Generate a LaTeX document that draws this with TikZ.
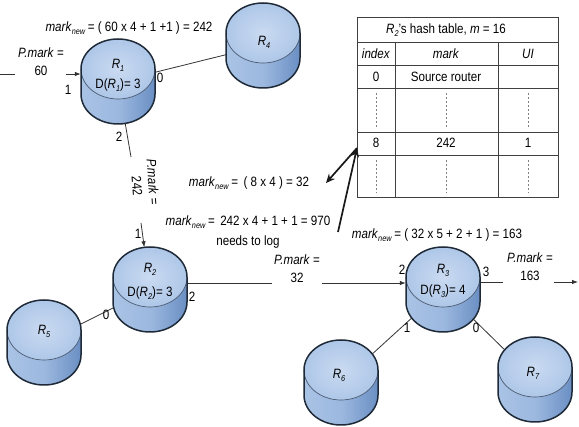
\documentclass[tikz,border=0pt]{standalone}
\usepackage{fontspec}
\setmainfont{Liberation Sans}[FakeStretch=0.86]
\usetikzlibrary{shapes.geometric,arrows.meta}

\definecolor{sideL}{HTML}{A9C3E5}
\definecolor{sideM}{HTML}{9CB8DF}
\definecolor{sideR}{HTML}{6A8FC3}
\definecolor{topIn}{HTML}{CADAF1}
\definecolor{topOut}{HTML}{AEC7E8}
\definecolor{rimC}{HTML}{4A5A70}
\definecolor{edgeC}{HTML}{1F2A38}

\newcommand\sbs[1]{\raisebox{-0.4ex}{\fontsize{8.5}{9}\selectfont #1}}
\newcommand\mnew{\textit{mark}\sbs{\textit{new}}}
\newcommand\Rr[1]{\textit{R}\sbs{\textit{#1}}}

% cylinder drawn around the centre of its top face
\newcommand\routerbody[1]{%
  \begin{scope}[shift={#1}]
    \path[left color=sideL, right color=sideR, middle color=sideM]
      (-37,0) -- (-37,25) arc[start angle=180,end angle=0,x radius=37,y radius=30]
      -- (37,0) arc[start angle=0,end angle=180,x radius=37,y radius=30] -- cycle;
    \path[inner color=topIn, outer color=topOut] (0,0) ellipse[x radius=37,y radius=30];
    \draw[rimC, line width=0.7pt] (37,0) arc[start angle=0,end angle=180,x radius=37,y radius=30];
    \draw[edgeC, line width=1.5pt] (-37,0) arc[start angle=180,end angle=360,x radius=37,y radius=30]
      -- (37,25) arc[start angle=0,end angle=180,x radius=37,y radius=30] -- cycle;
  \end{scope}}

\tikzset{
  txt/.style={font=\fontsize{13.5}{18}\selectfont, inner sep=0pt, align=center},
  spot/.style={ellipse, minimum width=74pt, minimum height=85pt, inner sep=0pt},
  link/.style={line width=0.8pt, draw=black!80},
  tip/.style={-{Latex[length=6pt,width=4.5pt]}},
  heavy/.style={line width=1.7pt, draw=black!90, -{Stealth[length=9pt,width=8pt]}},
  grid/.style={line width=0.7pt, draw=black!75},
  dots/.style={dash pattern=on 2.5pt off 1.5pt, draw=gray, line width=0.6pt}
}

\begin{document}
\begin{tikzpicture}[x=1pt,y=-1pt]
\useasboundingbox (0,0) rectangle (579,427);

% router outlines used as connector ends
\node[spot] (R1) at (118,81.5) {};
\node[spot] (R4) at (263,45.5) {};
\node[spot] (R2) at (150,289.5) {};
\node[spot] (R5) at (44,342.5) {};
\node[spot] (R3) at (443,289.5) {};
\node[spot] (R6) at (341,382.5) {};
\node[spot] (R7) at (535,379.5) {};

% free ends of the packet paths
\coordinate (inL) at (0,74);
\coordinate (inR) at (15,74);
\coordinate (inA) at (66,74);
\coordinate (downA) at (131,157);
\coordinate (downB) at (141,223);
\coordinate (midA) at (272,283);
\coordinate (midB) at (322,283);
\coordinate (outA) at (503,282);
\coordinate (outB) at (554,282);
\coordinate (outC) at (578,282);
\coordinate (row8) at (357,148);
\coordinate (log970) at (338,232);
\coordinate (to32) at (326,183);

% plain links (under the routers)
\draw[link] (R1) -- (R4);
\draw[link] (R1) -- (downA);
\draw[link] (R2) -- (R5);
\draw[link] (R3) -- (R6);
\draw[link] (R3) -- (R7);
\draw[link] (R2.east |- midA) -- (midA);
\draw[link] (R3.east |- outA) -- (outA);
\draw[link] (inL) -- (inR);

% routers
\routerbody{(118,69)}
\routerbody{(263,33)}
\routerbody{(150,277)}
\routerbody{(44,330)}
\routerbody{(443,277)}
\routerbody{(341,370)}
\routerbody{(535,367)}

% router labels
\node[txt] (l1) at (118,65) {\Rr{1}};
\node[txt] (d1) at (118,85) {D(\Rr{1})= 3};
\node[txt] (l4) at (264,42) {\Rr{4}};
\node[txt] (l2) at (150,269) {\Rr{2}};
\node[txt] (d2) at (150,293) {D(\Rr{2})= 3};
\node[txt] (l5) at (44,331) {\Rr{5}};
\node[txt] (l3) at (443,270) {\Rr{3}};
\node[txt] (d3) at (443,291) {D(\Rr{3})= 4};
\node[txt] (l6) at (339,375) {\Rr{6}};
\node[txt] (l7) at (533,373) {\Rr{7}};

% arrows into and out of routers
\draw[link,tip] (inA) -- (inA -| R1.west);
\draw[link,tip] (downB) -- (R2);
\draw[link,tip] (midB) -- (R3.west |- midB);
\draw[link,tip] (outB) -- (outC);

% port numbers
\node[txt] (p1a) at (68,90) {1};
\node[txt] (p1b) at (160,78) {0};
\node[txt] (p1c) at (119,137) {2};
\node[txt] (p2a) at (138,234) {1};
\node[txt] (p2b) at (106,315) {0};
\node[txt] (p2c) at (192,297) {2};
\node[txt] (p3a) at (402,270) {2};
\node[txt] (p3b) at (486,272) {3};
\node[txt] (p3c) at (407,328) {1};
\node[txt] (p3d) at (476,328) {0};

% packet marks and computations
\node[txt] (calc1) at (129,28) {\mnew\,= ( 60 x 4 + 1 +1 ) = 242};
\node[txt] (pm60) at (41,62) {\textit{P.mark} =\\60};
\node[txt, rotate=-86] (pm242a) at (153,182) {\textit{P.mark} =};
\node[txt, rotate=-86] (pm242b) at (137,186) {242};
\node[txt] (calc32) at (249,183) {\mnew\,=\, ( 8 x 4 ) = 32};
\node[txt] (calc970) at (248,222) {\mnew\,=\, 242 x 4 + 1 + 1 = 970};
\node[txt] (log) at (248,242) {needs to log};
\node[txt] (pm32) at (297,269) {\textit{P.mark} =\\32};
\node[txt] (calc163) at (437,235) {\mnew\,= ( 32 x 5 + 2 + 1 ) = 163};
\node[txt] (pm163) at (530,267) {\textit{P.mark} =\\163};

% hash table of R2
\draw[grid] (357,17) rectangle (558,197);
\foreach \yy in {42,65,88,132,155} \draw[grid] (357,\yy) -- (558,\yy);
\foreach \xx in {395,498} \draw[grid] (\xx,42) -- (\xx,197);
\foreach \xx in {376,446,528} {
  \draw[dots] (\xx,93) -- (\xx,127);
  \draw[dots] (\xx,160) -- (\xx,193);
}
\node[txt] (thead) at (446,30) {\Rr{2}'s hash table, \textit{m} = 16};
\node[txt] (hidx) at (376,54) {\textit{index}};
\node[txt] (hmark) at (446,54) {\textit{mark}};
\node[txt] (hui) at (528,54) {\textit{UI}};
\node[txt] (c00) at (376,77) {0};
\node[txt] (c01) at (446,77) {Source router};
\node[txt] (c80) at (376,143) {8};
\node[txt] (c81) at (446,143) {242};
\node[txt] (c82) at (528,143) {1};

% logging arrows
\draw[heavy] (log970) -- (row8);
\draw[heavy] (row8) -- (to32);
\end{tikzpicture}
\end{document}
